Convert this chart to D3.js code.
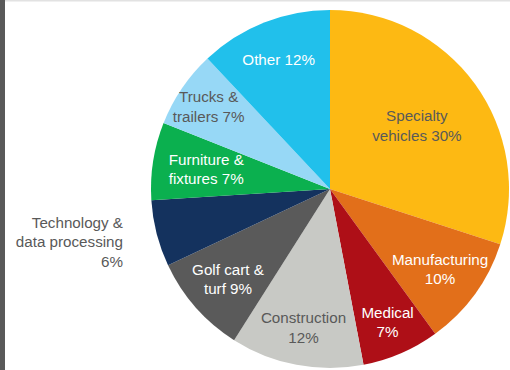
<!DOCTYPE html>
<html>
<head>
<meta charset="utf-8">
<script src="https://cdn.jsdelivr.net/npm/d3@7"></script>
<style>
  html, body { margin: 0; padding: 0; background: #fff; }
  svg { display: block; }
</style>
</head>
<body>
<svg id="chart" width="510" height="370"></svg>
<script>
// Sales mix by end market
const categories = [
  ["Specialty", "vehicles 30%"],
  ["Manufacturing", "10%"],
  ["Medical", "7%"],
  ["Construction", "12%"],
  ["Golf cart &", "turf 9%"],
  ["Technology &", "data processing", "6%"],
  ["Furniture &", "fixtures 7%"],
  ["Trucks &", "trailers 7%"],
  ["Other 12%"]
];
const shares = [30, 10, 7, 12, 9, 6, 7, 7, 12];
const colors = ["#FDB913", "#E26F1A", "#AE0F17", "#C8C9C5", "#5A5A5A",
                "#14325E", "#0BB04F", "#97D8F6", "#21C0EB"];
const textColors = ["#595959", "#fff", "#fff", "#595959", "#fff",
                    "#595959", "#fff", "#595959", "#fff"];
// label distance from centre, as a fraction of the radius
const labelRadius = [0.60, 0.76, 0.81, 0.79, 0.76, 1.19, 0.70, 0.82, 0.78];

const W = 510, H = 370;
const cx = 330, cy = 189, R = 179;
const svg = d3.select("#chart");

// frame: dark bar on the left, faint rule on top
svg.append("rect").attr("x", 0).attr("y", 0).attr("width", 5).attr("height", H).attr("fill", "#595959");
svg.append("rect").attr("x", 5).attr("y", 0).attr("width", W - 5).attr("height", 1.5).attr("fill", "#e2e2e2");

const data = shares.map((v, i) => ({ value: v, lines: categories[i], i }));
const pie = d3.pie().value(d => d.value).sort(null);
const arcs = pie(data);
const arc = d3.arc().innerRadius(0).outerRadius(R);

const g = svg.append("g").attr("transform", `translate(${cx},${cy})`);
g.selectAll("path.slice")
  .data(arcs)
  .join("path")
  .attr("class", "slice")
  .attr("d", arc)
  .attr("fill", d => colors[d.data.i]);

const fontSize = 15.2, lineH = 19.5;
const labels = g.selectAll("text.lbl")
  .data(arcs)
  .join("text")
  .attr("class", "lbl")
  .attr("font-family", "'Liberation Sans', Arial, sans-serif")
  .attr("font-size", fontSize)
  .attr("fill", d => textColors[d.data.i])
  .each(function(d) {
    const k = labelRadius[d.data.i];
    const la = d3.arc().innerRadius(R * k).outerRadius(R * k);
    let [x, y] = la.centroid(d);
    const outside = k > 1;
    if (outside) x = -R - 28;
    const t = d3.select(this).attr("text-anchor", outside ? "end" : "middle");
    const n = d.data.lines.length;
    d.data.lines.forEach((line, j) => {
      t.append("tspan")
        .attr("x", x)
        .attr("y", y + (j - (n - 1) / 2) * lineH)
        .attr("dy", "0.35em")
        .text(line);
    });
  });
</script>
</body>
</html>
